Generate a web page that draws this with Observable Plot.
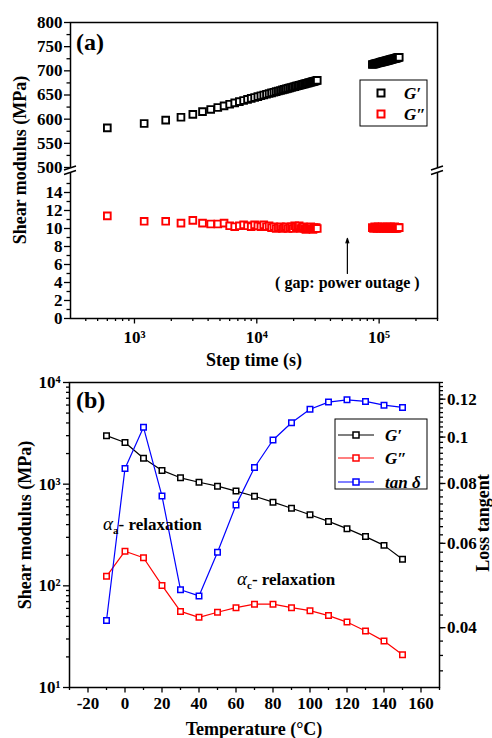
<!DOCTYPE html>
<html><head><meta charset="utf-8">
<script src="https://cdn.jsdelivr.net/npm/d3@7"></script>
<script src="https://cdn.jsdelivr.net/npm/@observablehq/plot@0.6"></script>
<style>
body{margin:0;background:#fff;}
.panel{position:relative;width:492px;}
.panel svg{position:absolute;left:0;top:0;}
</style></head><body>
<div id="pa" class="panel" style="height:370px"></div>
<div id="pb" class="panel" style="height:368px"></div>
<script>
// ---------- Panel (a) data ----------
const timesA1 = [600,1200,1800,2400,3000,3600,4200,4800,5400,6000,6600,7200,7800,8400,9000,9600,10200,10800,11400,12000,12600,13200,13800,14400,15000,15600,16200,16800,17400,18000,18600,19200,19800,20400,21000,21600,22200,22800,23400,24000,24600,25200,25800,26400,27000,27600,28200,28800,29400,30000,30600,31200];
const gPrimeA1 = [582,591,598,604,610,615.5,620.1,624.1,627.6,630.8,633.6,636.2,638.6,640.9,642.9,644.9,646.7,648.4,650.0,651.6,653.0,654.4,655.7,657.0,658.2,659.4,660.5,661.6,662.7,663.7,664.7,665.6,666.5,667.4,668.3,669.1,670.0,670.7,671.5,672.3,673.0,673.7,674.4,675.1,675.8,676.4,677.1,677.7,678.3,679.0,679.6,680.2];
const gDoubleA1 = [11.4,10.8,10.8,10.6,10.9,10.6,10.5,10.5,10.6,10.3,10.2,10.3,10.4,10.3,10.2,10.4,10.3,10.2,10.4,10.2,10.3,10.1,10.2,10.0,10.1,10.2,10.0,10.1,10.2,10.0,10.1,10.2,10.0,10.3,10.2,10.1,10.3,10.0,10.1,10.2,10.0,9.9,10.1,10.0,10.1,10.2,10.0,9.9,10.1,10.0,10.1,10.0];
const timesA2 = [88000,90000,92000,94000,96000,98000,100000,102000,104000,106000,108000,110000,112000,114000,116000,118000,120000,122000,124000,126000,128000,130000,132000,134000,136000,138000,140000,142000,144000,146000];
const gPrimeA2 = [713.0,713.7,714.3,715.0,715.6,716.2,716.8,717.4,718.0,718.5,719.1,719.6,720.2,720.7,721.2,721.7,722.2,722.7,723.2,723.6,724.1,724.6,725.0,725.4,725.9,726.3,726.7,727.2,727.6,728.0];
const gDoubleA2 = [10.1,10.0,10.2,10.1,10.0,10.2,10.1,10.0,10.1,10.2,10.0,10.1,10.1,10.0,10.2,10.1,10.0,10.1,10.2,10.0,10.1,10.0,10.1,10.2,10.0,10.1,10.0,10.1,10.1,10.1];
const xMajorA = [1000,10000,100000];
const xMinorA = [400,500,600,700,800,900,2000,3000,4000,5000,6000,7000,8000,9000,20000,30000,40000,50000,60000,70000,80000,90000,200000,300000];
const yMajorA = [0,2,4,6,8,10,12,14,500,550,600,650,700,750,800];
const yMinorA = [1,3,5,7,9,11,13,15,525,575,625,675,725,775];
const gapArrow = [{x:55000, y1:5.0, y2:8.9}];
const gapNote = [{x:55000, y:4.0, text:"( gap: power outage )"}];

// ---------- Panel (b) data ----------
const tempB = [-10,0,10,20,30,40,50,60,70,80,90,100,110,120,130,140,150];
const gPrimeB = [3000,2570,1800,1365,1155,1045,955,855,760,665,580,500,430,365,305,250,183];
const gDoubleB = [124,219,189,101,56,49,55,61,66,66,61,57,51,44,36,28.6,21];
const tanDeltaB = [0.0414,0.086,0.1048,0.0753,0.048,0.0466,0.0575,0.0721,0.0864,0.0986,0.1071,0.1143,0.1183,0.1196,0.1187,0.1166,0.1153];
const xMajorB = [-20,0,20,40,60,80,100,120,140,160];
const xMinorB = [-30,-10,10,30,50,70,90,110,130,150,170];
const yMajorB = [10,100,1000,10000];
const tanMajor = [0.04,0.06,0.08,0.1,0.12];

const sup = {1:"\u00B9",2:"\u00B2",3:"\u00B3",4:"\u2074",5:"\u2075"};
const FONT = "'Liberation Serif','Times New Roman',serif";
const baseStyle = {fontFamily: FONT, fontSize: "17px", fontWeight: "bold", color: "#000", background: "transparent", overflow: "visible"};

// helpers
function txt(svg, x, y, s, o = {}) {
  const t = svg.append("text").attr("x", x).attr("y", y).text(s)
    .style("font-family", FONT).style("font-weight", o.weight || "bold")
    .style("font-size", (o.size || 18) + "px").attr("fill", "#000")
    .attr("text-anchor", o.anchor || "start");
  if (o.italic) t.style("font-style", "italic");
  if (o.rotate) t.attr("transform", `rotate(${o.rotate},${x},${y})`);
  return t;
}
function brk(svg, x, y) {
  svg.append("polygon").attr("points", `${x-7},${y+1} ${x+7},${y-3.5} ${x+7},${y+1.5} ${x-7},${y+6}`).attr("fill", "#fff");
  svg.append("line").attr("x1", x-6).attr("y1", y+1).attr("x2", x+6).attr("y2", y-3).attr("stroke", "#000").attr("stroke-width", 1.4);
  svg.append("line").attr("x1", x-6).attr("y1", y+5.5).attr("x2", x+6).attr("y2", y+1.5).attr("stroke", "#000").attr("stroke-width", 1.4);
}

// ---------- Panel (a) ----------
const rowsA = timesA1.map((t, i) => ({t, gp: gPrimeA1[i], gpp: gDoubleA1[i]}))
  .concat(timesA2.map((t, i) => ({t, gp: gPrimeA2[i], gpp: gDoubleA2[i]})));

const plotA = Plot.plot({
  width: 492, height: 370,
  marginLeft: 70, marginRight: 55, marginTop: 22, marginBottom: 52,
  style: baseStyle,
  x: {type: "log", domain: [300, 300000]},
  y: {type: "linear", domain: [0, 16, 500, 800], range: [318, 174, 167, 22]},
  marks: [
    Plot.axisX({ticks: xMinorA, tickSize: 3, tickFormat: () => "", strokeWidth: 1.3, label: null}),
    Plot.axisX({ticks: xMajorA, tickSize: 5.5, tickPadding: 7, tickFormat: d => "10" + sup[Math.round(Math.log10(d))], strokeWidth: 1.3, label: null}),
    Plot.axisY({ticks: yMinorA, tickSize: 3.5, tickFormat: () => "", strokeWidth: 1.3, label: null}),
    Plot.axisY({ticks: yMajorA, tickSize: 6, tickPadding: 2, tickFormat: d => String(d), strokeWidth: 1.3, label: null}),
    Plot.dot(rowsA, {x: "t", y: "gp", symbol: "square", r: 3.8, stroke: "#000", strokeWidth: 1.9, fill: "#fff"}),
    Plot.dot(rowsA, {x: "t", y: "gpp", symbol: "square", r: 3.8, stroke: "#ff0000", strokeWidth: 1.9, fill: "#fff"}),
    Plot.arrow(gapArrow, {x: "x", y1: "y1", y2: "y2", stroke: "#000", strokeWidth: 1.2, headLength: 6, headAngle: 35}),
    Plot.text(gapNote, {x: "x", y: "y", text: "text", fontSize: 16, fontWeight: "bold"}),
    Plot.frame({stroke: "#000", strokeWidth: 1.5})
  ]
});
document.getElementById("pa").appendChild(plotA);
{
  const s = d3.select(plotA);
  brk(s, 70, 169);
  brk(s, 437, 169);
  txt(s, 76, 50, "(a)", {size: 24});
  txt(s, 26, 160, "Shear modulus (MPa)", {size: 18, anchor: "middle", rotate: -90});
  txt(s, 254, 366, "Step time (s)", {size: 18, anchor: "middle"});
  // legend
  s.append("rect").attr("x", 360).attr("y", 80).attr("width", 67).attr("height", 46).attr("fill", "#fff").attr("stroke", "#000").attr("stroke-width", 1);
  [["G\u2032", "#000", 93], ["G\u2033", "#ff0000", 114]].forEach(([lab, col, y]) => {
    s.append("rect").attr("x", 381 - 3.5).attr("y", y - 3.5).attr("width", 7).attr("height", 7).attr("fill", "#fff").attr("stroke", col).attr("stroke-width", 2);
    txt(s, 404, y + 6, lab, {size: 17, italic: true});
  });
}

// ---------- Panel (b) ----------
const rowsB = tempB.map((t, i) => ({t, gp: gPrimeB[i], gpp: gDoubleB[i], tan: tanDeltaB[i]}));
const dimsB = {width: 492, height: 368, marginLeft: 69, marginRight: 53, marginTop: 12, marginBottom: 51, style: baseStyle};

const plotB = Plot.plot({
  ...dimsB,
  x: {domain: [-30, 170]},
  y: {type: "log", domain: [10, 10000]},
  marks: [
    Plot.axisX({ticks: xMinorB, tickSize: 3, tickFormat: () => "", strokeWidth: 1.3, label: null}),
    Plot.axisX({ticks: xMajorB, tickSize: 5.5, tickPadding: 4, tickFormat: d => String(d), strokeWidth: 1.3, label: null}),
    Plot.axisY({ticks: d3.range(1, 4).flatMap(e => d3.range(2, 10).map(m => m * 10 ** e)), tickSize: 3, tickFormat: () => "", strokeWidth: 1.3, label: null}),
    Plot.axisY({ticks: yMajorB, tickSize: 6, tickPadding: 3, tickFormat: d => "10" + sup[Math.round(Math.log10(d))], strokeWidth: 1.3, label: null}),
    Plot.line(rowsB, {x: "t", y: "gp", stroke: "#000", strokeWidth: 1.2}),
    Plot.dot(rowsB, {x: "t", y: "gp", symbol: "square", r: 3.1, stroke: "#000", strokeWidth: 1.5, fill: "#fff"}),
    Plot.line(rowsB, {x: "t", y: "gpp", stroke: "#ff0000", strokeWidth: 1.2}),
    Plot.dot(rowsB, {x: "t", y: "gpp", symbol: "square", r: 3.1, stroke: "#ff0000", strokeWidth: 1.5, fill: "#fff"}),
    Plot.frame({stroke: "#000", strokeWidth: 1.5})
  ]
});
const plotB2 = Plot.plot({
  ...dimsB,
  x: {domain: [-30, 170], axis: null},
  y: {type: "log", domain: [0.03, 0.13]},
  marks: [
    Plot.axisY({anchor: "right", ticks: d3.range(13, 53).map(k => k * 0.0025), tickSize: 3, tickFormat: () => "", strokeWidth: 1.3, label: null}),
    Plot.axisY({anchor: "right", ticks: tanMajor, tickSize: 5.5, tickPadding: 2, tickFormat: d => String(d), strokeWidth: 1.3, label: null}),
    Plot.line(rowsB, {x: "t", y: "tan", stroke: "#0000ff", strokeWidth: 1.2}),
    Plot.dot(rowsB, {x: "t", y: "tan", symbol: "square", r: 3.1, stroke: "#0000ff", strokeWidth: 1.5, fill: "#fff"})
  ]
});
document.getElementById("pb").appendChild(plotB);
document.getElementById("pb").appendChild(plotB2);
{
  const s = d3.select(plotB2);
  txt(s, 76, 38, "(b)", {size: 24});
  txt(s, 31, 155, "Shear modulus (MPa)", {size: 18, anchor: "middle", rotate: -90});
  txt(s, 489, 153, "Loss tangent", {size: 18, anchor: "middle", rotate: -90});
  txt(s, 254, 365, "Temperature (\u00B0C)", {size: 18, anchor: "middle"});
  // annotations
  [[103, 160, "a"], [237, 215, "c"]].forEach(([x, y, sub]) => {
    const t = s.append("text").attr("x", x).attr("y", y).attr("text-anchor", "start")
      .style("font-family", FONT).style("font-size", "17px").style("font-weight", "bold").attr("fill", "#000");
    t.append("tspan").style("font-style", "italic").style("font-weight", "normal").style("font-size", "19px").text("\u03B1");
    t.append("tspan").attr("dy", 4).style("font-size", "11px").text(sub);
    t.append("tspan").attr("dy", -4).text("- relaxation");
  });
  // legend
  s.append("rect").attr("x", 335).attr("y", 49).attr("width", 92).attr("height", 70).attr("fill", "#fff").attr("stroke", "#000").attr("stroke-width", 1);
  [["G\u2032", "#000", 65], ["G\u2033", "#ff0000", 88], ["tan \u03B4", "#0000ff", 112]].forEach(([lab, col, y]) => {
    s.append("line").attr("x1", 338).attr("x2", 374).attr("y1", y).attr("y2", y).attr("stroke", col).attr("stroke-width", 1.2);
    s.append("rect").attr("x", 356 - 3).attr("y", y - 3).attr("width", 6).attr("height", 6).attr("fill", "#fff").attr("stroke", col).attr("stroke-width", 1.5);
    txt(s, 385, y + 6, lab, {size: 17, italic: true});
  });
}
</script>
</body></html>
